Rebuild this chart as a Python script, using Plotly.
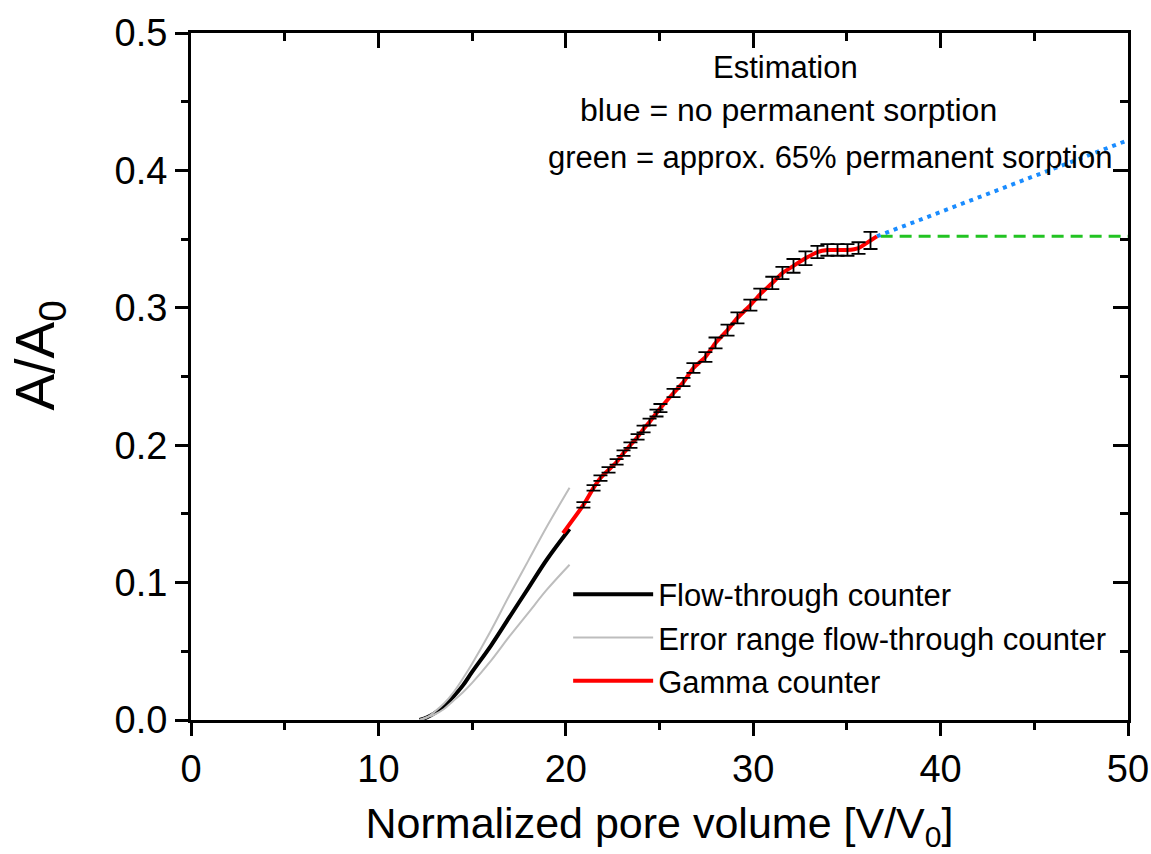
import plotly.graph_objects as go

# Flow-through counter (black) and its error range (gray)
flow_x = [12.2, 12.6, 13.0, 13.5, 14.0, 14.5, 15.0, 16.0, 17.0, 18.0, 19.0, 20.2]
flow_y = [0, 0.002, 0.005, 0.010, 0.017, 0.025, 0.035, 0.054, 0.075, 0.096, 0.117, 0.139]
err_hi_y = [0, 0.002, 0.006, 0.012, 0.020, 0.030, 0.041, 0.065, 0.091, 0.116, 0.141, 0.169]
err_lo_y = [0, 0.002, 0.004, 0.008, 0.014, 0.020, 0.027, 0.043, 0.061, 0.078, 0.095, 0.113]

# Gamma counter (red line) with measurement error bars
gamma_line_x = [19.85, 20.94, 21.48, 21.85, 22.28, 22.71, 23.08, 23.45, 23.83, 24.15, 24.47, 24.84,
                25.05, 25.75, 26.28, 26.81, 27.45, 27.99, 28.63, 29.16, 29.85, 30.38, 31.02, 31.56,
                32.15, 32.79, 33.43, 33.96, 34.50, 35.03, 35.62, 36.26, 36.6]
gamma_line_y = [0.136, 0.1565, 0.1689, 0.1761, 0.1820, 0.1878, 0.1943, 0.2001, 0.2060, 0.2118, 0.2169, 0.2234,
                0.2270, 0.2380, 0.2460, 0.2562, 0.2642, 0.2744, 0.2838, 0.2926, 0.3020, 0.3100, 0.3181, 0.3253,
                0.3305, 0.3360, 0.3406, 0.3421, 0.3421, 0.3421, 0.3435, 0.3490, 0.352]

gamma_x = gamma_line_x[1:-1]
gamma_y = gamma_line_y[1:-1]
gamma_err = [0.002, 0.002, 0.002, 0.002, 0.002, 0.002, 0.002, 0.002, 0.0025, 0.0025, 0.0025,
             0.003, 0.003, 0.003, 0.0035, 0.0035, 0.004, 0.004, 0.004, 0.004, 0.004, 0.0045, 0.0045,
             0.005, 0.005, 0.0045, 0.0042, 0.0042, 0.0042, 0.0042, 0.0062]

# Estimations
blue_x = [36.6, 50]
blue_y = [0.352, 0.422]
green_x = [36.8, 50]
green_y = [0.352, 0.352]

x_range = [0, 50]
y_range = [0, 0.5]

FONT = "Arial, Liberation Sans, Helvetica, sans-serif"

fig = go.Figure()

fig.add_trace(go.Scatter(x=flow_x, y=flow_y, mode="lines", name="Flow-through counter",
                         line=dict(color="black", width=4, shape="spline", smoothing=1.0)))
fig.add_trace(go.Scatter(x=flow_x, y=err_hi_y, mode="lines", name="Error range flow-through counter",
                         line=dict(color="#bdbdbd", width=2, shape="spline", smoothing=1.0)))
fig.add_trace(go.Scatter(x=flow_x, y=err_lo_y, mode="lines", showlegend=False,
                         line=dict(color="#bdbdbd", width=2, shape="spline", smoothing=1.0)))
fig.add_trace(go.Scatter(x=green_x, y=green_y, mode="lines", showlegend=False,
                         line=dict(color="#22c322", width=3, dash="12px,7px")))
fig.add_trace(go.Scatter(x=blue_x, y=blue_y, mode="lines", showlegend=False,
                         line=dict(color="#1a8cff", width=4, dash="4px,5px")))
fig.add_trace(go.Scatter(x=gamma_line_x, y=gamma_line_y, mode="lines", name="Gamma counter",
                         line=dict(color="red", width=4, shape="spline", smoothing=0.5)))
fig.add_trace(go.Scatter(x=gamma_x, y=gamma_y, mode="markers", showlegend=False,
                         marker=dict(size=1, color="rgba(0,0,0,0)"),
                         error_y=dict(type="data", array=gamma_err, visible=True,
                                      color="black", thickness=1.8, width=7)))

# invisible trace to activate mirrored axes
fig.add_trace(go.Scatter(x=[None], y=[None], xaxis="x2", yaxis="y2", showlegend=False))

axis_font = dict(family=FONT, size=38, color="black")

fig.update_layout(
    width=1151, height=854,
    margin=dict(l=191, r=23, t=33, b=134, autoexpand=False),
    plot_bgcolor="white", paper_bgcolor="white",
    font=dict(family=FONT, color="black"),
    xaxis=dict(range=x_range, dtick=10, tick0=0, showgrid=False, zeroline=False,
               showline=True, linecolor="black", linewidth=3,
               ticks="outside", ticklen=13, tickwidth=3, tickcolor="black",
               minor=dict(dtick=5, ticks="outside", ticklen=7, tickwidth=3, tickcolor="black"),
               tickfont=axis_font,
               title=dict(text="Normalized pore volume [V/V<sub>0</sub>]",
                          font=dict(family=FONT, size=43, color="black"), standoff=20)),
    yaxis=dict(range=y_range, dtick=0.1, tick0=0, tickformat=".1f", showgrid=False, zeroline=False,
               showline=True, linecolor="black", linewidth=3,
               ticks="outside", ticklen=13, tickwidth=3, tickcolor="black",
               minor=dict(dtick=0.05, ticks="outside", ticklen=7, tickwidth=3, tickcolor="black"),
               tickfont=axis_font),
    xaxis2=dict(range=x_range, overlaying="x", side="top", anchor="y", dtick=10, tick0=0,
                showgrid=False, zeroline=False, showline=True, linecolor="black", linewidth=3,
                ticks="inside", ticklen=15, tickwidth=3, tickcolor="black", showticklabels=False,
                minor=dict(dtick=5, ticks="inside", ticklen=8, tickwidth=3, tickcolor="black")),
    yaxis2=dict(range=y_range, overlaying="y", side="right", anchor="x", dtick=0.1, tick0=0,
                showgrid=False, zeroline=False, showline=True, linecolor="black", linewidth=3,
                ticks="inside", ticklen=15, tickwidth=3, tickcolor="black", showticklabels=False,
                minor=dict(dtick=0.05, ticks="inside", ticklen=8, tickwidth=3, tickcolor="black")),
    legend=dict(x=0.4025, y=0.222, xanchor="left", yanchor="top", bgcolor="rgba(0,0,0,0)",
                borderwidth=0, font=dict(family=FONT, size=31, color="black"),
                itemwidth=80, traceorder="normal"),
    showlegend=True,
)

# y-axis title
fig.add_annotation(text="A/A<sub>0</sub>", xref="paper", yref="paper", x=-0.162, y=0.531,
                   textangle=-90, showarrow=False, xanchor="center", yanchor="middle",
                   font=dict(family=FONT, size=55, color="black"))

ann_font = dict(family=FONT, size=31, color="black")
fig.add_annotation(text="Estimation", xref="paper", yref="paper", x=0.635, y=0.9505,
                   showarrow=False, font=ann_font, xanchor="center", yanchor="middle")
fig.add_annotation(text="blue = no permanent sorption", xref="paper", yref="paper", x=0.638, y=0.888,
                   showarrow=False, font=dict(family=FONT, size=32, color="black"),
                   xanchor="center", yanchor="middle")
fig.add_annotation(text="green = approx. 65% permanent sorption", xref="paper", yref="paper",
                   x=0.682, y=0.8195, showarrow=False, font=ann_font, xanchor="center", yanchor="middle")

fig.write_html("out.html", config={"displayModeBar": False},
               post_script="document.body.style.margin='0px';")
